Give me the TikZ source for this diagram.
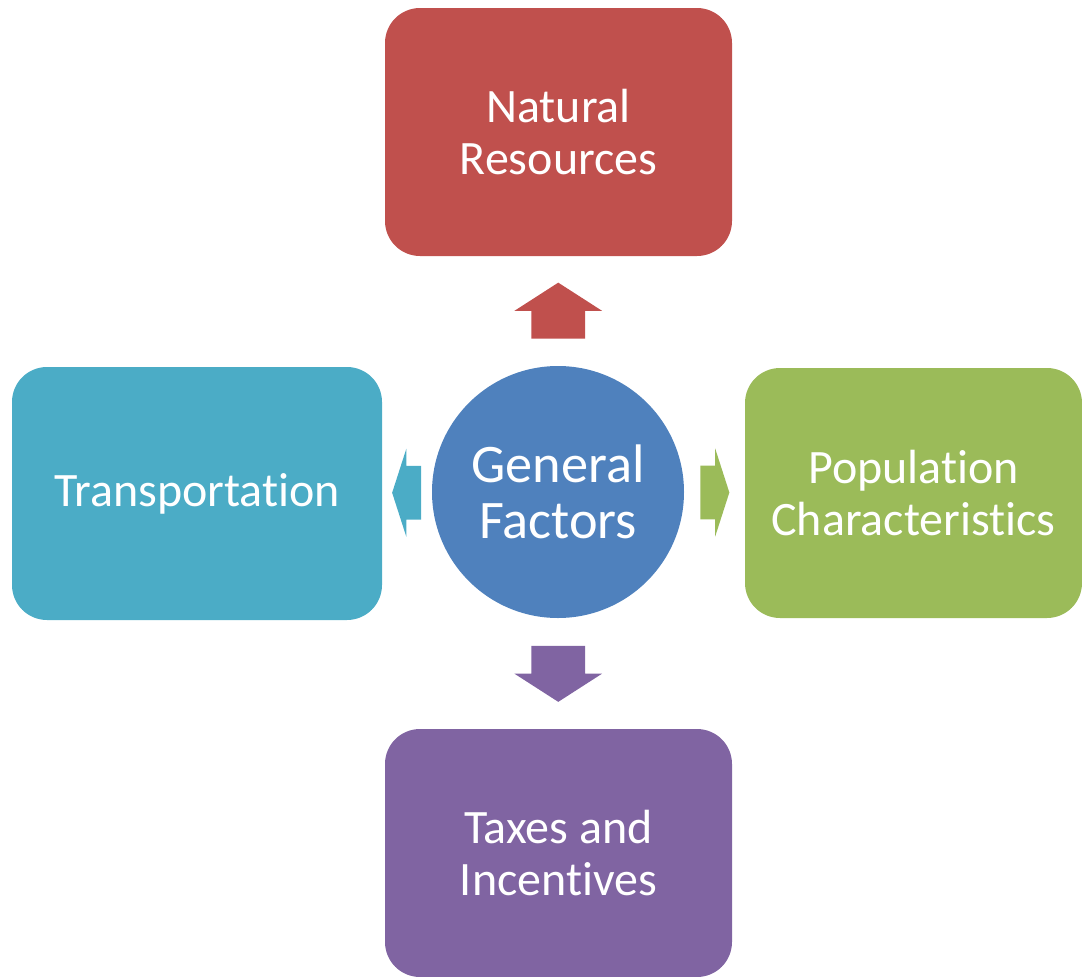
\documentclass[tikz,border=0pt]{standalone}
\usepackage{fontspec}
\setmainfont{Carlito}[Ligatures=NoCommon]
\usetikzlibrary{shapes.arrows,calc}
\definecolor{natred}{HTML}{C0504D}
\definecolor{genblue}{HTML}{4F81BD}
\definecolor{transteal}{HTML}{4BACC6}
\definecolor{popgreen}{HTML}{9BBB59}
\definecolor{taxpurple}{HTML}{8064A2}
\begin{document}
\begin{tikzpicture}[
        factor/.style={rectangle, rounded corners=0.7cm, fill=#1, text=white, align=center, inner sep=0pt,
            font=\fontsize{27.3}{29.8}\selectfont},
        hub/.style={circle, fill=genblue, minimum size=5.04cm, inner sep=0pt, text=white, align=center,
            font=\fontsize{30.9}{31.6}\selectfont},
        blockarrow/.style={single arrow, fill=#1, inner xsep=0pt, inner ysep=0.53cm,
            single arrow head extend=0.34cm, anchor=tail}
    ]
        \useasboundingbox (0,0) rectangle (21.64,-19.54);
        % General factors in the middle, the four factors round it
        \node[hub] (gen) at (11.16,-9.84) {General\\Factors};
        \node[factor=natred, minimum width=6.94cm, minimum height=4.96cm] (nat) at (11.17,-2.64) {Natural\\Resources};
        \node[factor=transteal, minimum width=7.4cm, minimum height=5.06cm] (trans) at (3.94,-9.87) {Transportation};
        \node[factor=popgreen, minimum width=6.74cm, minimum height=5cm] (pop) at (18.27,-9.86) {Population\\Characteristics};
        \node[factor=taxpurple, minimum width=6.94cm, minimum height=4.96cm] (tax) at (11.17,-17.06) {Taxes and\\Incentives};
        % block arrows from the hub, tail half a length short of the midpoint
        \node[blockarrow=natred, minimum height=1.12cm, single arrow tip angle=114.5, rotate=90]
            (upar) at ($(gen.north)!0.5!(nat.south)+(0,-0.56)$) {};
        \node[blockarrow=taxpurple, minimum height=1.12cm, single arrow tip angle=114.5, rotate=-90]
            (downar) at ($(gen.south)!0.5!(tax.north)+(0,0.56)$) {};
        \node[blockarrow=transteal, minimum height=0.58cm, single arrow tip angle=144.3, rotate=180]
            (leftar) at ($(gen.west)!0.5!(trans.east)+(0.29,0)$) {};
        \node[blockarrow=popgreen, minimum height=0.58cm, single arrow tip angle=144.3]
            (rightar) at ($(gen.east)!0.5!(pop.west)+(-0.29,0)$) {};
    \end{tikzpicture}
\end{document}
